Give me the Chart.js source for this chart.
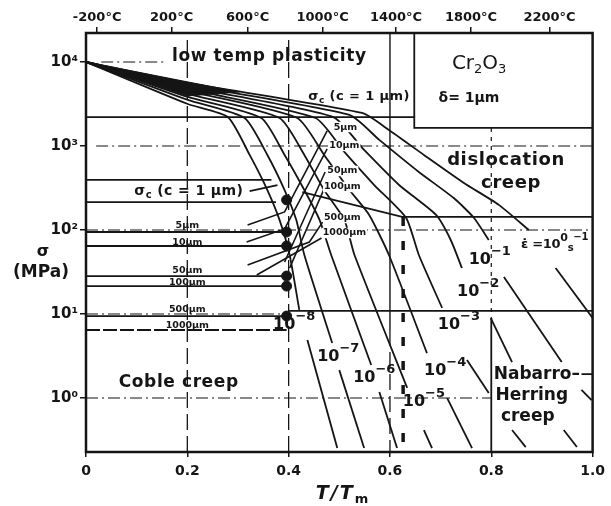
<!DOCTYPE html>
<html>
<head>
<meta charset="utf-8">
<script src="https://cdn.jsdelivr.net/npm/chart.js@4.4.0/dist/chart.umd.min.js"></script>
<style>html,body{margin:0;background:#fff}</style>
</head>
<body>
<canvas id="map" width="611" height="506"></canvas>
<script>
// axes
const ratioTicks = [0, 0.2, 0.4, 0.6, 0.8, 1.0]
const stressTicks = [1, 10, 100, 1000, 10000]
const stressTickLabels = ['10⁰', '10¹', '10²', '10³', '10⁴']
const stressMin = 0.228
const stressMax = 22100
const celsiusLabels = ['-200°C', '200°C', '600°C', '1000°C', '1400°C', '1800°C', '2200°C']
const celsiusAt = [0.022, 0.169, 0.319, 0.467, 0.612, 0.760, 0.915]

// strain rate contours, points are [T/Tm, stress MPa], broken where the label sits
const rateExponents = ['0', '-1', '-2', '-3', '-4', '-5', '-6', '-7', '-8']
const rateUpper = [
  [[0, 10000], [0.201, 5620], [0.545, 2470], [0.598, 1550], [0.667, 782], [0.746, 363], [0.815, 199], [0.874, 100]],
  [[0, 10000], [0.201, 5320], [0.520, 2340], [0.579, 1180], [0.657, 490], [0.726, 240], [0.766, 139], [0.795, 76.0]],
  [[0, 10000], [0.201, 5040], [0.488, 2210], [0.549, 896], [0.618, 343], [0.691, 151], [0.720, 76.0], [0.742, 35.3]],
  [[0, 10000], [0.201, 4770], [0.453, 2150], [0.510, 849], [0.569, 343], [0.632, 139], [0.657, 50.4], [0.703, 11.8]],
  [[0, 10000], [0.201, 4520], [0.417, 2150], [0.470, 782], [0.520, 299], [0.559, 151], [0.598, 50.4], [0.673, 3.43]],
  [[0, 10000], [0.201, 4160], [0.382, 2150], [0.431, 782], [0.470, 299], [0.510, 132], [0.530, 50.4], [0.634, 1.32]],
  [[0, 10000], [0.201, 3830], [0.346, 2150], [0.392, 782], [0.431, 299], [0.461, 132], [0.484, 50.4], [0.563, 2.47]],
  [[0, 10000], [0.201, 3530], [0.313, 2150], [0.358, 782], [0.392, 299], [0.415, 132], [0.431, 50.4], [0.486, 4.52]],
  [[0, 10000], [0.201, 3160], [0.280, 2210], [0.323, 782], [0.358, 299], [0.382, 132], [0.402, 50.4], [0.421, 11.2]]
]
const rateLower = [
  [[0.927, 35.3], [1.0, 8.96]],
  [[0.825, 27.6], [0.939, 2.68]],
  [[0.799, 8.96], [0.841, 2.68]],
  [[0.752, 2.83], [0.795, 1.15]],
  [[0.713, 1.0], [0.762, 0.254]],
  [[0.667, 0.416], [0.683, 0.254]],
  [[0.579, 1.18], [0.614, 0.254]],
  [[0.500, 2.15], [0.549, 0.254]],
  [[0.437, 4.90], [0.496, 0.254]]
]
// pieces inside the Nabarro-Herring field
const rateNabarro = [
  [[0.978, 1.25], [0.998, 0.947]],
  [[0.943, 0.416], [0.969, 0.261]],
  [[0.841, 0.416], [0.868, 0.261]]
]
// dark wedge of the low temperature plasticity fan
const plasticWedge = [[0, 10000], [0.201, 5780], [0.303, 4390], [0.201, 3940], [0, 10000]]

// grain sizes: flat Coble boundary up to the measured points, then the sloped boundary
const grainSizes = ['5μm', '10μm', '50μm', '100μm', '500μm', '1000μm']
const grainStress = [94.6, 64.5, 28.3, 21.5, 9.46, 6.45]
const grainEdge = 0.396
const pointStress = [228, 94.6, 64.5, 28.3, 21.5, 9.46]
const grainSlope = [
  [[0.319, 115], [0.392, 164], [0.476, 1510]],
  [[0.317, 71.9], [0.392, 103], [0.476, 921]],
  [[0.392, 41.6], [0.472, 490]],
  [[0.402, 35.3], [0.470, 308]],
  [[0.319, 38.3], [0.441, 71.9], [0.467, 124]],
  [[0.337, 29.1], [0.465, 80.3]]
]

// field boundaries
const plasticityEdge = [[0, 2210], [0.648, 2210], [0.648, 1640], [1, 1640]]
const boxSide = [[0.648, stressMax], [0.648, 2210]]
const fractureBand = [394, 215]
const fractureEnd = [0.366, 0.375]
const fractureLeader = [[0.323, 291], [0.378, 343]]
const dislocationEdge = [[0.427, 283], [0.624, 143], [1, 143]]
const tenMPaEdge = [[0.4, 10.9], [1, 10.9]]
const nabarroLeader = [[0.978, 1.93], [1, 1.93]]

const INK = '#151515'
const FAM = '"DejaVu Sans", sans-serif'

function pts(a) { return a.map(p => ({ x: p[0], y: p[1] })) }
function path(a, extra) {
  return Object.assign({
    data: pts(a), showLine: true, pointRadius: 0, borderColor: INK,
    borderWidth: 1.8, tension: 0, fill: false
  }, extra || {})
}

const datasets = []
rateUpper.forEach(a => datasets.push(path(a, { tension: 0.2 })))
rateLower.forEach(a => datasets.push(path(a)))
rateNabarro.forEach(a => datasets.push(path(a)))
datasets.push(path(plasticWedge, { fill: 'shape', backgroundColor: INK, borderWidth: 1 }))
grainStress.forEach((s, i) => datasets.push(path([[0, s], [grainEdge, s]], i === 5 ? { borderDash: [14, 3] } : {})))
grainSlope.forEach(a => datasets.push(path(a, { borderWidth: 1.6 })))
datasets.push({
  data: pointStress.map(s => ({ x: grainEdge, y: s })), showLine: false,
  pointRadius: 5, pointBackgroundColor: INK, pointBorderColor: INK
})
datasets.push(path(plasticityEdge), path(boxSide), path(dislocationEdge), path(tenMPaEdge), path(nabarroLeader), path(fractureLeader))
fractureBand.forEach((s, i) => datasets.push(path([[0, s], [fractureEnd[i], s]])))

// dash-dot decade lines: [stress, from, to]
const decadeLines = [[1, 0, 0.8], [10, 0, 0.4], [100, 0, 1], [1000, 0.02, 1], [10000, 0.03, 0.16]]
decadeLines.forEach(d => datasets.push(path([[d[1], d[0]], [d[2], d[0]]], { borderWidth: 1.1, borderDash: [12, 4, 2, 4] })))
// vertical guides
;[0.2, 0.4].forEach(v => datasets.push(path([[v, stressMin], [v, stressMax]], { borderWidth: 1.3, borderDash: [16, 6] })))
datasets.push(path([[0.6, stressMax], [0.6, 6.45]], { borderWidth: 1.4 }))
datasets.push(path([[0.6, 6.45], [0.6, stressMin]], { borderWidth: 1.3, borderDash: [16, 6] }))
datasets.push(path([[0.626, 143], [0.626, 0.276]], { borderWidth: 3.5, borderDash: [9, 15] }))
datasets.push(path([[0.8, 1640], [0.8, 8.96]], { borderWidth: 1.2, borderDash: [4, 5] }))
datasets.push(path([[0.8, 8.96], [0.8, stressMin]], { borderWidth: 1.8 }))

// text helpers: parts are [text, size, dy, weight]
function runs(ctx, parts, x, y, spacing, bg) {
  ctx.letterSpacing = (spacing || 0) + 'px'
  let w = 0
  parts.forEach(p => { ctx.font = (p[3] || 'bold') + ' ' + p[1] + 'px ' + FAM; w += ctx.measureText(p[0]).width })
  let cx = x - w / 2
  if (bg) {
    ctx.fillStyle = '#fff'
    ctx.fillRect(cx - 1, y - parts[0][1] * 0.55, w + 2, parts[0][1] * 1.1)
    ctx.fillStyle = INK
  }
  parts.forEach(p => {
    ctx.font = (p[3] || 'bold') + ' ' + p[1] + 'px ' + FAM
    ctx.fillText(p[0], cx, y + (p[2] || 0))
    cx += ctx.measureText(p[0]).width
  })
  ctx.letterSpacing = '0px'
}
function power(exp) { return [['10', 16, 0], [exp.replace('-', '−'), 13, -8]] }

const notes = [
  { at: [0.362, 11480], parts: [['low temp plasticity', 17]], sp: 0.6 },
  { at: [0.776, 9460], parts: [['Cr', 20, 0, 'normal'], ['2', 13, 6, 'normal'], ['O', 20, 0, 'normal'], ['3', 13, 6, 'normal']] },
  { at: [0.756, 3730], parts: [['δ= 1μm', 14]] },
  { at: [0.539, 3830], parts: [['σ', 13], ['c', 9, 4], [' (c = 1 μm)', 13]], sp: 0.4 },
  { at: [0.203, 291], parts: [['σ', 14], ['c', 10, 4], [' (c = 1 μm)', 14]], sp: 0.4 },
  { at: [0.829, 681], parts: [['dislocation', 18]], sp: 0.6 },
  { at: [0.839, 363], parts: [['creep', 18]], sp: 0.6 },
  { at: [0.183, 1.51], parts: [['Coble creep', 17]], sp: 0.6 },
  { at: [0.890, 1.88], parts: [['Nabarro–', 17]] },
  { at: [0.880, 1.06], parts: [['Herring', 17]] },
  { at: [0.872, 0.594], parts: [['creep', 17]] },
  { at: [0.925, 66.3], parts: [['ε̇ =10', 13], ['0', 11, -7], ['s', 10, 3], ['−1', 10, -8]], sp: -0.3 }
]
const rateLabelAt = [null, [0.797, 43.9], [0.774, 18.3], [0.736, 7.40], [0.709, 2.10], [0.667, 0.896], [0.569, 1.73], [0.498, 3.08], [0.411, 7.40]]
const grainLabelLeft = [112, 70.0, 32.5, 24.0, 11.2, 7.20]
const grainLabelRight = [[0.512, 1680], [0.510, 1000], [0.506, 504], [0.506, 325], [0.506, 139], [0.510, 92.1]]

const notesPlugin = {
  id: 'notes',
  afterDatasetsDraw(chart) {
    const { ctx, chartArea: a, scales: { x, y } } = chart
    const X = v => x.getPixelForValue(v)
    const Y = v => y.getPixelForValue(v)
    ctx.save()
    ctx.strokeStyle = INK
    ctx.lineWidth = 2.5
    ctx.strokeRect(a.left, a.top, a.right - a.left, a.bottom - a.top)
    ctx.fillStyle = INK
    ctx.textBaseline = 'middle'
    ctx.textAlign = 'left'
    notes.forEach(n => runs(ctx, n.parts, X(n.at[0]), Y(n.at[1]), n.sp))
    rateLabelAt.forEach((p, i) => { if (p) runs(ctx, power(rateExponents[i]), X(p[0]), Y(p[1])) })
    grainSizes.forEach((g, i) => {
      runs(ctx, [[g, 9.5]], X(0.2), Y(grainLabelLeft[i]))
      runs(ctx, [[g, 9.5]], X(grainLabelRight[i][0]), Y(grainLabelRight[i][1]), 0, true)
    })
    // axis titles
    runs(ctx, [['σ', 16]], a.left - 43, 252)
    runs(ctx, [['(MPa)', 17]], a.left - 45, 273)
    runs(ctx, [['T/T', 19, 0, 'italic bold'], ['m', 13, 6]], 343, 494, 2)
    ctx.restore()
  }
}

new Chart(document.getElementById('map'), {
  type: 'scatter',
  data: { datasets },
  options: {
    responsive: false,
    animation: false,
    events: [],
    layout: { padding: { left: 0, right: 17, top: 0, bottom: 0 } },
    plugins: { legend: { display: false }, tooltip: { enabled: false } },
    scales: {
      x: {
        type: 'linear', position: 'bottom', min: 0, max: 1,
        afterBuildTicks: s => { s.ticks = ratioTicks.map(v => ({ value: v })) },
        ticks: {
          callback: v => v === 0 ? '0' : v.toFixed(1),
          font: { family: FAM, size: 14, weight: 'bold' }, color: INK, padding: 6, maxRotation: 0, autoSkip: false
        },
        grid: { drawOnChartArea: false, tickLength: 5, color: INK, lineWidth: 1.5 },
        border: { display: false },
        afterFit: s => { s.height = 54 }
      },
      x2: {
        type: 'linear', position: 'top', min: 0, max: 1,
        afterBuildTicks: s => { s.ticks = celsiusAt.map(v => ({ value: v })) },
        ticks: {
          callback: (v, i) => celsiusLabels[i],
          font: { family: FAM, size: 13, weight: 'bold' }, color: INK, padding: 2, maxRotation: 0, autoSkip: false
        },
        grid: { drawOnChartArea: false, tickLength: 6, color: INK, lineWidth: 1.5 },
        border: { display: false },
        afterFit: s => { s.height = 33 }
      },
      y: {
        type: 'logarithmic', min: stressMin, max: stressMax,
        afterBuildTicks: s => { s.ticks = stressTicks.map(v => ({ value: v })) },
        ticks: {
          callback: (v, i) => stressTickLabels[i],
          font: { family: FAM, size: 15, weight: 'bold' }, color: INK, padding: 2, autoSkip: false
        },
        grid: { drawOnChartArea: false, tickLength: 6, color: INK, lineWidth: 1.5 },
        border: { display: false },
        afterFit: s => { s.width = 86 }
      }
    }
  },
  plugins: [notesPlugin]
})
</script>
</body>
</html>
